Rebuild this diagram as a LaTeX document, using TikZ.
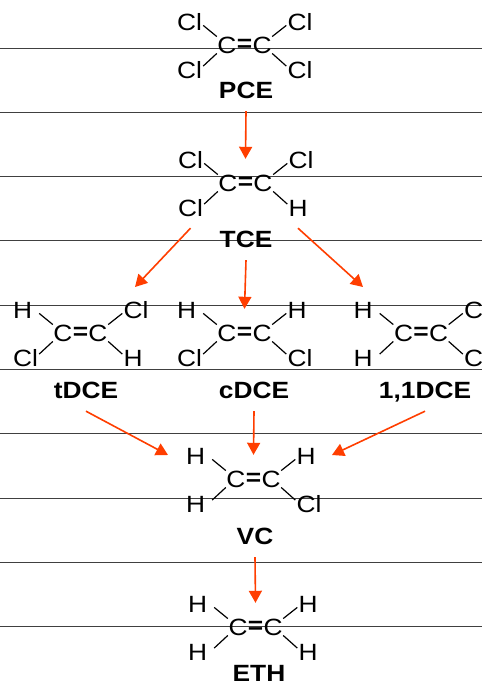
\documentclass[tikz,border=0pt]{standalone}
\usepackage{fontspec}
\setmainfont[FakeStretch=1.12]{Liberation Sans}
\usetikzlibrary{arrows.meta}
\definecolor{redarrow}{RGB}{255,62,0}
\newcommand{\chemfont}{\fontsize{23.5}{25}\selectfont}
\tikzset{
  atom/.style={text width=25pt,text height=16.5pt,text depth=0pt,inner xsep=1pt,inner ysep=0pt,minimum height=40pt,align=left,font=\chemfont},
  carbon/.style={minimum width=20pt,minimum height=16pt,text height=16.5pt,text depth=0pt,inner sep=0pt,font=\chemfont},
  dbl/.style={minimum height=48pt,inner sep=0pt,font=\chemfont\bfseries},
  molname/.style={minimum height=42pt,text height=16.5pt,text depth=0pt,inner sep=0pt,font=\chemfont\bfseries},
  bond/.style={line width=1.2pt},
  rule/.style={color=black!75,line width=0.9pt},
  reaction/.style={-{Triangle[width=13pt,length=12pt]},color=redarrow,line width=1.6pt}
}
% name, x, y, then the four outer atoms
\newcommand{\ethene}[7]{
  \node[carbon] (#1-a) at (#2,#3) {C};
  \node[carbon] (#1-b) at (#2+35,#3) {C};
  \node[dbl] (#1-e) at (#2+17.5,#3) {=};
  \node[atom] (#1-tl) at (#2-37.5,#3-22.5) {#4};
  \node[atom] (#1-tr) at (#2+73,#3-22.5) {#5};
  \node[atom] (#1-bl) at (#2-37.5,#3+25) {#6};
  \node[atom] (#1-br) at (#2+73,#3+25) {#7};
  \draw[bond] (#1-a.north west) -- (#1-tl.-12);
  \draw[bond] (#1-b.north east) -- (#1-tr.192);
  \draw[bond] (#1-a.south west) -- (#1-bl.16);
  \draw[bond] (#1-b.south east) -- (#1-br.164);
}
\begin{document}
\begin{tikzpicture}[x=1pt,y=-1pt]
  \useasboundingbox (0,0) rectangle (482,682);
  \foreach \y in {48,112.3,176.7,240.7,305.3,369.3,433.7,498.3,562.3,626.7}
    \draw[rule] (0,\y) -- (482,\y);

  \ethene{pce}{227}{45}{Cl}{Cl}{Cl}{Cl}
  \ethene{tce}{228}{183}{Cl}{Cl}{Cl}{H}
  \ethene{tdce}{63}{333}{H}{Cl}{Cl}{H}
  \ethene{cdce}{227}{333}{H}{H}{Cl}{Cl}
  \ethene{ddce}{403.5}{333}{H}{Cl}{H}{Cl}
  \ethene{vc}{236}{479}{H}{H}{H}{Cl}
  \ethene{eth}{238}{627}{H}{H}{H}{H}

  \node[molname] (pce) at (246,90) {PCE};
  \node[molname] (tce) at (246,239) {TCE};
  \node[molname] (tdce) at (86,390) {tDCE};
  \node[molname] (cdce) at (254,390) {cDCE};
  \node[molname] (ddce) at (425,390) {1,1DCE};
  \node[molname] (vc) at (255,536) {VC};
  \node[molname] (eth) at (259,673) {ETH};

  \coordinate (tdce-in) at (135,287);
  \coordinate (ddce-in) at (363,287);
  \coordinate (vc-left) at (168,455);
  \coordinate (vc-right) at (332,455);

  \draw[reaction] (pce.south) -- (tce-e.north);
  \draw[reaction] (tce-bl.south) -- (tdce-in);
  \draw[reaction] (tce.south) -- (cdce-e.north);
  \draw[reaction] ([xshift=-3pt]tce-br.south) -- (ddce-in);
  \draw[reaction] (tdce.south) -- (vc-left);
  \draw[reaction] (cdce.south) -- (vc-e.north);
  \draw[reaction] (ddce.south) -- (vc-right);
  \draw[reaction] (vc.south) -- (eth-e.north);
\end{tikzpicture}
\end{document}
